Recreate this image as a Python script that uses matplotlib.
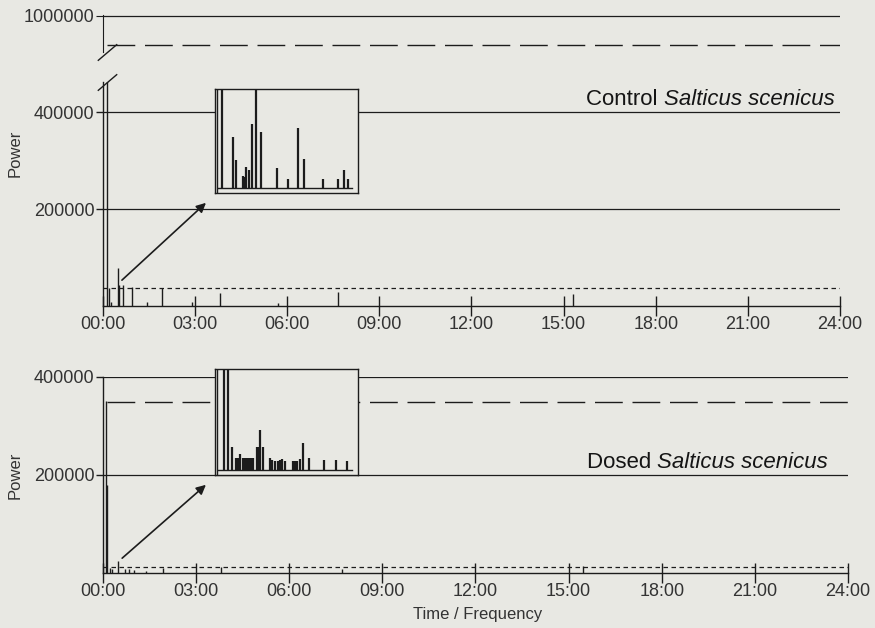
import matplotlib
matplotlib.use('Agg')
import matplotlib.pyplot as plt

plt.rcParams['font.family'] = ['Liberation Sans', 'DejaVu Sans']

BG = '#e8e8e3'
INK = '#1c1c1c'
TXT = '#333333'

# x ticks (hours)
hours = [0, 3, 6, 9, 12, 15, 18, 21, 24]
hour_labels = ['%02d:00' % h for h in hours]

# control, main chart (time in hours, power)
control_t = [0.13, 0.2, 0.27, 0.49, 0.51, 0.65, 0.95, 1.43, 1.93, 2.9, 3.8, 5.7, 7.65, 15.3]
control_p = [480000, 37000, 9000, 78000, 43000, 43000, 39000, 8000, 37000, 8000, 27000, 6000, 29000, 25000]
control_peak = 895000      # long dash, upper part
control_base = 37000       # short dash

# control inset (minutes, power)
control_in_t = [1.1, 4.8, 5.9, 8.1, 8.7, 9.2, 10.3, 11.4, 12.6, 14.1, 19.7, 23.4,
                26.7, 28.6, 34.8, 40.0, 41.9, 43.3]
control_in_p = [150000, 52000, 28600, 12000, 11000, 21500, 18000, 65000, 150000, 56500,
                20000, 9000, 60500, 29600, 9000, 9000, 18500, 9000]

# dosed, main chart
dosed_t = [0.1, 0.14, 0.22, 0.3, 0.49, 0.7, 0.85, 1.0, 1.4, 1.93, 3.8, 7.7, 15.45]
dosed_p = [350000, 180000, 10000, 8000, 25000, 8000, 9000, 6000, 4000, 10000, 12000, 9000, 14000]
dosed_peak = 349000
dosed_base = 13000

# dosed inset
dosed_in_t = [2.0, 3.1, 4.7, 6.0, 6.4, 6.8, 7.1, 8.2, 8.6, 8.9, 9.2, 9.6, 9.9, 10.3, 10.6,
              10.9, 11.2, 11.5, 13.0, 13.4, 13.9, 14.8, 17.3, 17.8, 18.9, 19.8, 20.5, 21.1,
              22.2, 25.0, 25.7, 26.4, 27.2, 28.2, 30.2, 35.4, 39.2, 42.8]
dosed_in_p = [150000, 150000, 22500, 11600, 11600, 11600, 15900, 11600, 11600, 11600, 11600,
              11600, 11600, 11600, 11600, 11600, 11600, 11600, 22500, 22500, 39700, 22500,
              11600, 9900, 8900, 8900, 9900, 11300, 8900, 8900, 8900, 8900, 11300, 26500,
              11600, 9900, 9900, 8900]

LONG_DASH = (20, 7)
SHORT_DASH = (3.6, 2.8)


def style_main(ax, yticks):
    ax.set_facecolor('none')
    for s in ['top', 'right']:
        ax.spines[s].set_visible(False)
    for s in ['left', 'bottom']:
        ax.spines[s].set_color(INK)
        ax.spines[s].set_linewidth(1.0)
    ax.set_xlim(0, 24)
    ax.set_xticks(hours)
    ax.set_xticklabels(hour_labels)
    ax.set_yticks(yticks)
    ax.set_yticklabels([str(v) for v in yticks])
    ax.tick_params(axis='x', direction='inout', length=14, width=1.0, color=INK,
                   labelsize=13, labelcolor=TXT, pad=0)
    ax.tick_params(axis='y', direction='out', length=5, width=1.0, color=INK,
                   labelsize=13, labelcolor=TXT, pad=1)
    for v in yticks:
        ax.axhline(v, color=INK, lw=0.9, zorder=1)


def make_inset(rect, t, p):
    ins = fig.add_axes(rect)
    ins.set_facecolor(BG)
    ins.set_zorder(5)
    ins.vlines(t, 0, p, color=INK, lw=1.6)
    ins.set_xlim(-1.1, 46.6)
    ins.set_ylim(-5000, 100000)
    ins.axhline(0, xmin=0.02, xmax=0.96, color=INK, lw=1.0)
    ins.axvline(-0.35, color=INK, lw=1.0)
    ins.set_xticks([])
    ins.set_yticks([])
    for s in ins.spines.values():
        s.set_color(INK)
        s.set_linewidth(1.0)
    return ins


def species_label(ax, x, y, prefix):
    t = ax.text(x, y, 'Salticus scenicus', transform=ax.transAxes, ha='right',
                va='center', fontsize=16, style='italic', color='#151515')
    ax.annotate(prefix + ' ', xy=(0, 0.5), xycoords=t, ha='right', va='center',
                fontsize=16, color='#151515')


fig = plt.figure(figsize=(8.75, 6.28), dpi=100, facecolor=BG)

# ---- top panel: control ----
ax_hi = fig.add_axes([0.1177, 0.9172, 0.8423, 0.0589])
ax_hi.set_facecolor('none')
ax_hi.set_xlim(0, 24)
ax_hi.set_ylim(870000, 1002000)
for s in ['top', 'right', 'bottom']:
    ax_hi.spines[s].set_visible(False)
ax_hi.spines['left'].set_color(INK)
ax_hi.set_xticks([])
ax_hi.set_yticks([1000000])
ax_hi.set_yticklabels(['1000000'])
ax_hi.tick_params(axis='y', direction='out', length=5, color=INK, labelsize=13,
                  labelcolor=TXT, pad=1)
ax_hi.axhline(1000000, color=INK, lw=0.9)
ax_hi.axhline(control_peak, xmin=0.006, color=INK, lw=1.0, dashes=LONG_DASH)

ax_c = fig.add_axes([0.1177, 0.5127, 0.8423, 0.3567])
style_main(ax_c, [200000, 400000])
ax_c.set_ylim(0, 462000)
ax_c.vlines(control_t, 0, control_p, color=INK, lw=1.0, zorder=2)
ax_c.axhline(control_base, color=INK, lw=0.9, dashes=SHORT_DASH, zorder=2)

# break marks
brk = dict(marker=[(-1, -0.85), (1, 0.85)], markersize=14, linestyle='none',
           color=INK, mec=INK, mew=1.0, clip_on=False)
ax_hi.plot([0.005], [0.0], transform=ax_hi.transAxes, **brk)
ax_c.plot([0.005], [1.0], transform=ax_c.transAxes, **brk)

species_label(ax_c, 0.993, 0.92, 'Control')

make_inset([0.2457, 0.6927, 0.1634, 0.1656], control_in_t, control_in_p)
ax_c.annotate('', xy=(0.2377, 0.680), xycoords='figure fraction',
              xytext=(0.55, 49500), textcoords='data',
              arrowprops=dict(arrowstyle='-|>', color=INK, lw=1.2, mutation_scale=14))

# ---- bottom panel: dosed ----
ax_d = fig.add_axes([0.1177, 0.0876, 0.8514, 0.3121])
style_main(ax_d, [200000, 400000])
ax_d.set_ylim(0, 400000)
ax_d.vlines(dosed_t, 0, dosed_p, color=INK, lw=1.0, zorder=2)
ax_d.axhline(dosed_base, color=INK, lw=0.9, dashes=SHORT_DASH, zorder=2)
ax_d.axhline(dosed_peak, xmin=0.006, color=INK, lw=1.0, dashes=LONG_DASH, zorder=2)

species_label(ax_d, 0.973, 0.566, 'Dosed')

make_inset([0.2457, 0.2436, 0.1634, 0.1688], dosed_in_t, dosed_in_p)
ax_d.annotate('', xy=(0.2377, 0.2309), xycoords='figure fraction',
              xytext=(0.55, 26500), textcoords='data',
              arrowprops=dict(arrowstyle='-|>', color=INK, lw=1.2, mutation_scale=14))

# labels
fig.text(15 / 875, 1 - 153 / 628, 'Power', rotation=90, ha='center', va='center',
         fontsize=12, color=TXT)
fig.text(15 / 875, 1 - 475 / 628, 'Power', rotation=90, ha='center', va='center',
         fontsize=12, color=TXT)
fig.text(478 / 875, 1 - 615 / 628, 'Time / Frequency', ha='center', va='center',
         fontsize=12, color=TXT)

fig.savefig('out.png', dpi=100, facecolor=BG)
